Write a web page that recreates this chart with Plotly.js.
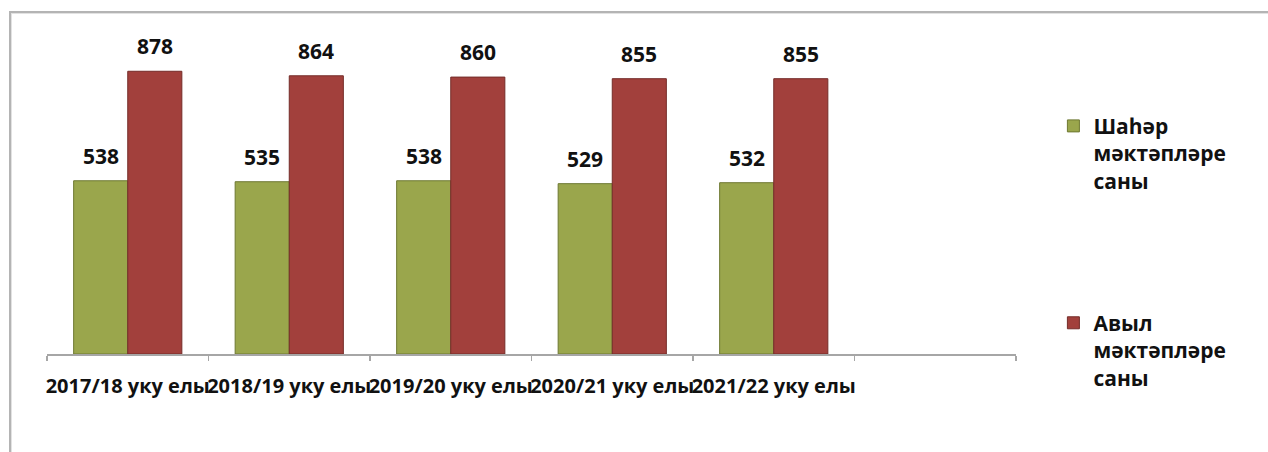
<!DOCTYPE html>
<html>
<head>
<meta charset="utf-8">
<script src="https://cdn.plot.ly/plotly-3.0.1.min.js"></script>
<style>
  html, body { margin: 0; padding: 0; background: #fff; }
  #wrap { position: relative; width: 1268px; height: 452px; overflow: hidden; }
  #chart { position: absolute; left: 0; top: 0; width: 1268px; height: 452px; }
  #frame { position: absolute; left: 9px; top: 11px; width: 1300px; height: 500px;
           border-left: 2px solid #b4b4b4; border-top: 2px solid #b4b4b4;
           box-shadow: inset 1px 1px 0 #e2e2e2; pointer-events: none; }
</style>
</head>
<body>
<div id="wrap">
  <div id="chart"></div>
  <div id="frame"></div>
</div>
<script>
const categories = ["2017/18 уку елы", "2018/19 уку елы", "2019/20 уку елы", "2020/21 уку елы", "2021/22 уку елы"];
const emptySlot = " ";
const urbanName = "Шаһәр<br>мәктәпләре<br>саны";
const ruralName = "Авыл<br>мәктәпләре<br>саны";
const urbanValues = [538, 535, 538, 529, 532];
const ruralValues = [878, 864, 860, 855, 855];

const xs = categories.concat([emptySlot]);
const FONT = "'Open Sans', 'DejaVu Sans', sans-serif";

const traces = [
  {
    type: "bar", name: urbanName, x: xs, y: urbanValues.concat([null]),
    legendgroup: "u",
    marker: { color: "#9aa64c", line: { color: "#6e7832", width: 1 } },
    hoverinfo: "y"
  },
  {
    type: "bar", name: ruralName, x: xs, y: ruralValues.concat([null]),
    legendgroup: "r",
    marker: { color: "#a2403c", line: { color: "#742c29", width: 1 } },
    hoverinfo: "y"
  }
];

const annotations = [];
categories.forEach((c, i) => {
  annotations.push({ x: c, y: urbanValues[i], xref: "x", yref: "y", text: String(urbanValues[i]),
    showarrow: false, yanchor: "bottom", xshift: -27, yshift: 9,
    font: { family: FONT, size: 21, color: "#111", weight: "bold" } });
  annotations.push({ x: c, y: ruralValues[i], xref: "x", yref: "y", text: String(ruralValues[i]),
    showarrow: false, yanchor: "bottom", xshift: 27, yshift: 9,
    font: { family: FONT, size: 21, color: "#111", weight: "bold" } });
});

const layout = {
  width: 1268, height: 452,
  margin: { l: 47, r: 252, t: 32, b: 98 },
  paper_bgcolor: "rgba(0,0,0,0)", plot_bgcolor: "rgba(0,0,0,0)",
  barmode: "group", bargap: 0.33, bargroupgap: 0,
  font: { family: FONT, color: "#111" },
  xaxis: {
    type: "category", categoryorder: "array", categoryarray: xs,
    range: [-0.5, 5.5], fixedrange: true,
    showline: true, linecolor: "#a6a6a6", linewidth: 1.5,
    ticks: "outside", tickson: "boundaries", ticklen: 5, tickcolor: "#a6a6a6", tickwidth: 1.5,
    tickangle: 0, ticklabelstandoff: 13,
    tickfont: { family: FONT, size: 20, color: "#111", weight: "bold" },
    showgrid: false, zeroline: false
  },
  yaxis: {
    range: [0, 1000], visible: false, showgrid: false, zeroline: false, fixedrange: true
  },
  showlegend: true,
  legend: {
    x: 1.0386, xanchor: "left", y: 0.771, yanchor: "top",
    traceorder: "grouped", tracegroupgap: 112, valign: "top",
    itemwidth: 30,
    font: { family: FONT, size: 21, color: "#111", weight: "bold" },
    bgcolor: "rgba(0,0,0,0)"
  },
  annotations: annotations
};

Plotly.newPlot("chart", traces, layout, { displayModeBar: false, staticPlot: true });
</script>
</body>
</html>
